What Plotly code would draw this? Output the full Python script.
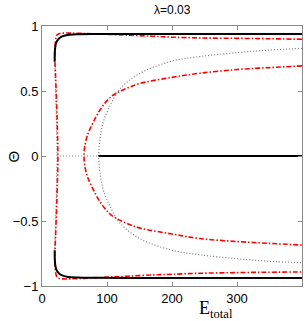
import plotly.graph_objects as go

# ---- data ----
black_up_x = [19.5, 19.6, 20.2, 21.2, 22.6, 24.6, 27.5, 32, 40, 55, 80, 150, 250, 400]
black_up_y = [0.725, 0.78, 0.83, 0.86, 0.88, 0.895, 0.91, 0.922, 0.931, 0.936, 0.938, 0.939, 0.939, 0.939]
black_lo_x = [19.5, 19.6, 20.2, 21.2, 22.6, 24.6, 27.5, 32, 40, 55, 80, 150, 250, 400]
black_lo_y = [-0.725, -0.78, -0.83, -0.86, -0.88, -0.895, -0.91, -0.92, -0.93, -0.935, -0.937, -0.938, -0.938, -0.938]
black_zero_x = [87, 400]
black_zero_y = [0, 0]

red_outer_x = [400, 350, 300, 243, 200, 170, 130, 100, 70, 45, 32, 26, 23, 21.5, 20.5, 19.8, 19.5,
               21, 22.5, 23.7, 24.5, 23.7, 22.5, 21, 19.5, 19.8, 20.5, 21.5, 23, 26, 32, 45, 70, 100,
               130, 170, 200, 243, 300, 350, 400]
red_outer_y = [0.898, 0.902, 0.905, 0.908, 0.914, 0.921, 0.93, 0.936, 0.942, 0.945, 0.945, 0.94, 0.93,
               0.91, 0.87, 0.83, 0.8, 0.6, 0.4, 0.2, 0, -0.2, -0.4, -0.6, -0.8, -0.83, -0.87, -0.91,
               -0.93, -0.94, -0.945, -0.945, -0.94, -0.932, -0.925, -0.915, -0.91, -0.902, -0.897,
               -0.894, -0.892]

red_inner_x = [400, 350, 300, 243, 200, 150, 130, 115, 104, 90, 78.5, 70, 66, 64.6,
               66, 70, 78.5, 90, 104, 115, 130, 150, 200, 243, 300, 350, 400]
red_inner_y = [0.693, 0.68, 0.665, 0.637, 0.605, 0.557, 0.52, 0.485, 0.446, 0.36, 0.256, 0.16, 0.08, 0,
               -0.08, -0.16, -0.255, -0.358, -0.443, -0.482, -0.517, -0.553, -0.6, -0.635, -0.658,
               -0.672, -0.685]

dot_outer_x = [400, 350, 300, 243, 200, 150, 119, 104, 94, 89, 87.2,
               89, 94, 104, 119, 150, 200, 243, 300, 350, 400]
dot_outer_y = [0.828, 0.815, 0.795, 0.765, 0.73, 0.634, 0.51, 0.38, 0.256, 0.12, 0,
               -0.12, -0.256, -0.38, -0.51, -0.634, -0.725, -0.76, -0.79, -0.81, -0.82]
dot_left_x = [19.5, 21, 22.3, 23, 22.3, 21, 19.5]
dot_left_y = [0.725, 0.5, 0.25, 0, -0.25, -0.5, -0.725]
dot_zero_x = [23, 87]
dot_zero_y = [0, 0]

x_ticks = [0, 100, 200, 300]
y_ticks = [-1, -0.5, 0, 0.5, 1]
y_tick_text = ["\u22121", "\u22120.5", "0", "0.5", "1"]

fig = go.Figure()

dot_style = dict(color="#7a7a7a", width=1.2, dash="1px,2px")
for xs, ys in [(dot_left_x, dot_left_y), (dot_zero_x, dot_zero_y), (dot_outer_x, dot_outer_y)]:
    fig.add_trace(go.Scatter(x=xs, y=ys, mode="lines", line=dot_style, line_shape="spline",
                             hoverinfo="skip", showlegend=False))

red_style = dict(color="#ff0000", width=1.6, dash="5px,2px,1.5px,2px")
for xs, ys in [(red_outer_x, red_outer_y), (red_inner_x, red_inner_y)]:
    fig.add_trace(go.Scatter(x=xs, y=ys, mode="lines", line=red_style, line_shape="spline",
                             hoverinfo="skip", showlegend=False))

black_style = dict(color="black", width=2)
for xs, ys in [(black_up_x, black_up_y), (black_lo_x, black_lo_y), (black_zero_x, black_zero_y)]:
    fig.add_trace(go.Scatter(x=xs, y=ys, mode="lines", line=black_style, line_shape="spline",
                             hoverinfo="skip", showlegend=False))

axis_common = dict(showline=True, linecolor="#8a8a8a", linewidth=1, mirror="ticks",
                   ticks="inside", ticklen=4, tickcolor="#8a8a8a", showgrid=False,
                   zeroline=False, tickfont=dict(size=13, color="black",
                                                 family="Liberation Sans"))

fig.update_xaxes(range=[0, 400], tickvals=x_ticks, ticktext=[str(t) for t in x_ticks],
                 **axis_common)
fig.update_yaxes(range=[-1, 1], tickvals=y_ticks, ticktext=y_tick_text, **axis_common)

fig.add_annotation(text="\u0398", xref="paper", yref="paper",
                   x=-0.11, y=0.5, xanchor="center", yanchor="middle", textangle=-90,
                   showarrow=False,
                   font=dict(size=15, family="Liberation Sans", color="black"))
fig.add_annotation(text="E<sub>total</sub>", xref="paper", yref="paper",
                   x=0.67, y=-0.04, xanchor="center", yanchor="top", showarrow=False,
                   font=dict(size=18, family="Liberation Serif", color="black"))
fig.add_annotation(text="\u03bb=0.03", xref="paper", yref="paper",
                   x=0.5, y=1.0, yshift=7, xanchor="center", yanchor="bottom",
                   showarrow=False,
                   font=dict(size=12, family="Liberation Sans", color="black"))

fig.update_layout(width=305, height=321, margin=dict(l=42, r=3, t=26, b=35),
                  plot_bgcolor="white", paper_bgcolor="white",
                  font=dict(family="Liberation Sans"))

# remove the default page margin so the figure sits at the window's top-left corner
fig.write_html("out.html", config={"displayModeBar": False},
               post_script="document.body.style.margin='0px';")
